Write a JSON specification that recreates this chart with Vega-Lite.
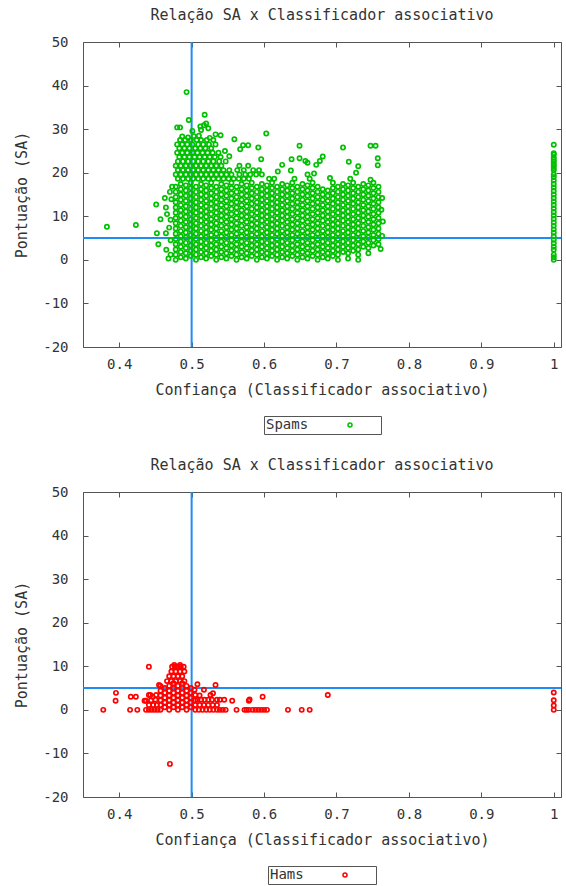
{
"$schema":"https://vega.github.io/schema/vega-lite/v6.json",
"padding":{"left":14,"top":8,"right":2,"bottom":0},
"spacing":23,
"config":{
"font":"DejaVu Sans Mono",
"view":{"stroke":null},
"axis":{"labelFont":"DejaVu Sans Mono","labelFontSize":14,"labelColor":"#333","titleFont":"DejaVu Sans Mono","titleFontSize":15,"titleFontWeight":"normal","titleColor":"#333","domainColor":"#555","tickColor":"#555","tickSize":-5,"grid":false},
"axisBottom":{"labelPadding":15,"titlePadding":11},
"axisLeft":{"labelPadding":20,"titlePadding":13},
"title":{"font":"DejaVu Sans Mono","fontSize":15,"fontWeight":"normal","color":"#333","anchor":"middle","frame":"group","offset":12},
"legend":{"layout":{"bottom":{"anchor":"middle"}},"titleFont":"DejaVu Sans Mono","titleFontSize":14,"titleFontWeight":"normal","titleColor":"#333","labelFont":"DejaVu Sans Mono","labelFontSize":14,"labelColor":"#333","strokeColor":"#555","padding":2,"offset":19,"symbolSize":16,"symbolStrokeWidth":1.5,"symbolType":"circle"}
},
"datasets":{
"spams":[
{"c":0.478,"s":0},{"c":0.478,"s":1.2},{"c":0.478,"s":2.4},{"c":0.478,"s":3.6},{"c":0.478,"s":4.8},{"c":0.478,"s":6},{"c":0.478,"s":7.2},{"c":0.478,"s":8.4},{"c":0.478,"s":9.6},{"c":0.478,"s":10.8},{"c":0.478,"s":12},{"c":0.478,"s":13.2},{"c":0.478,"s":14.4},{"c":0.478,"s":15.6},{"c":0.478,"s":16.8},
{"c":0.485,"s":0.6},{"c":0.485,"s":1.8},{"c":0.485,"s":3},{"c":0.485,"s":4.2},{"c":0.485,"s":5.4},{"c":0.485,"s":6.6},{"c":0.485,"s":7.8},{"c":0.485,"s":9},{"c":0.485,"s":10.2},{"c":0.485,"s":11.4},{"c":0.485,"s":12.6},{"c":0.485,"s":13.8},{"c":0.485,"s":15},{"c":0.485,"s":16.2},{"c":0.485,"s":17.4},
{"c":0.492,"s":0.3},{"c":0.492,"s":1.5},{"c":0.492,"s":2.7},{"c":0.492,"s":3.9},{"c":0.492,"s":5.1},{"c":0.492,"s":6.3},{"c":0.492,"s":7.5},{"c":0.492,"s":8.7},{"c":0.492,"s":9.9},{"c":0.492,"s":11.1},{"c":0.492,"s":12.3},{"c":0.492,"s":13.5},{"c":0.492,"s":14.7},{"c":0.492,"s":15.9},{"c":0.492,"s":17.1},
{"c":0.499,"s":0.9},{"c":0.499,"s":2.1},{"c":0.499,"s":3.3},{"c":0.499,"s":4.5},{"c":0.499,"s":5.7},{"c":0.499,"s":6.9},{"c":0.499,"s":8.1},{"c":0.499,"s":9.3},{"c":0.499,"s":10.5},{"c":0.499,"s":11.7},{"c":0.499,"s":12.9},{"c":0.499,"s":14.1},{"c":0.499,"s":15.3},{"c":0.499,"s":16.5},{"c":0.499,"s":17.7},
{"c":0.506,"s":0},{"c":0.506,"s":1.2},{"c":0.506,"s":2.4},{"c":0.506,"s":3.6},{"c":0.506,"s":4.8},{"c":0.506,"s":6},{"c":0.506,"s":7.2},{"c":0.506,"s":8.4},{"c":0.506,"s":9.6},{"c":0.506,"s":10.8},{"c":0.506,"s":12},{"c":0.506,"s":13.2},{"c":0.506,"s":14.4},{"c":0.506,"s":15.6},{"c":0.506,"s":16.8},
{"c":0.513,"s":0.6},{"c":0.513,"s":1.8},{"c":0.513,"s":3},{"c":0.513,"s":4.2},{"c":0.513,"s":5.4},{"c":0.513,"s":6.6},{"c":0.513,"s":7.8},{"c":0.513,"s":9},{"c":0.513,"s":10.2},{"c":0.513,"s":11.4},{"c":0.513,"s":12.6},{"c":0.513,"s":13.8},{"c":0.513,"s":15},{"c":0.513,"s":16.2},{"c":0.513,"s":17.4},
{"c":0.52,"s":0.3},{"c":0.52,"s":1.5},{"c":0.52,"s":2.7},{"c":0.52,"s":3.9},{"c":0.52,"s":5.1},{"c":0.52,"s":6.3},{"c":0.52,"s":7.5},{"c":0.52,"s":8.7},{"c":0.52,"s":9.9},{"c":0.52,"s":11.1},{"c":0.52,"s":12.3},{"c":0.52,"s":13.5},{"c":0.52,"s":14.7},{"c":0.52,"s":15.9},{"c":0.52,"s":17.1},
{"c":0.527,"s":0.9},{"c":0.527,"s":2.1},{"c":0.527,"s":3.3},{"c":0.527,"s":4.5},{"c":0.527,"s":5.7},{"c":0.527,"s":6.9},{"c":0.527,"s":8.1},{"c":0.527,"s":9.3},{"c":0.527,"s":10.5},{"c":0.527,"s":11.7},{"c":0.527,"s":12.9},{"c":0.527,"s":14.1},{"c":0.527,"s":15.3},{"c":0.527,"s":16.5},{"c":0.527,"s":17.7},
{"c":0.534,"s":0},{"c":0.534,"s":1.2},{"c":0.534,"s":2.4},{"c":0.534,"s":3.6},{"c":0.534,"s":4.8},{"c":0.534,"s":6},{"c":0.534,"s":7.2},{"c":0.534,"s":8.4},{"c":0.534,"s":9.6},{"c":0.534,"s":10.8},{"c":0.534,"s":12},{"c":0.534,"s":13.2},{"c":0.534,"s":14.4},{"c":0.534,"s":15.6},{"c":0.534,"s":16.8},
{"c":0.541,"s":0.6},{"c":0.541,"s":1.8},{"c":0.541,"s":3},{"c":0.541,"s":4.2},{"c":0.541,"s":5.4},{"c":0.541,"s":6.6},{"c":0.541,"s":7.8},{"c":0.541,"s":9},{"c":0.541,"s":10.2},{"c":0.541,"s":11.4},{"c":0.541,"s":12.6},{"c":0.541,"s":13.8},{"c":0.541,"s":15},{"c":0.541,"s":16.2},{"c":0.541,"s":17.4},
{"c":0.548,"s":0.3},{"c":0.548,"s":1.5},{"c":0.548,"s":2.7},{"c":0.548,"s":3.9},{"c":0.548,"s":5.1},{"c":0.548,"s":6.3},{"c":0.548,"s":7.5},{"c":0.548,"s":8.7},{"c":0.548,"s":9.9},{"c":0.548,"s":11.1},{"c":0.548,"s":12.3},{"c":0.548,"s":13.5},{"c":0.548,"s":14.7},{"c":0.548,"s":15.9},{"c":0.548,"s":17.1},
{"c":0.555,"s":0.9},{"c":0.555,"s":2.1},{"c":0.555,"s":3.3},{"c":0.555,"s":4.5},{"c":0.555,"s":5.7},{"c":0.555,"s":6.9},{"c":0.555,"s":8.1},{"c":0.555,"s":9.3},{"c":0.555,"s":10.5},{"c":0.555,"s":11.7},{"c":0.555,"s":12.9},{"c":0.555,"s":14.1},{"c":0.555,"s":15.3},{"c":0.555,"s":16.5},{"c":0.555,"s":17.7},
{"c":0.562,"s":0},{"c":0.562,"s":1.2},{"c":0.562,"s":2.4},{"c":0.562,"s":3.6},{"c":0.562,"s":4.8},{"c":0.562,"s":6},{"c":0.562,"s":7.2},{"c":0.562,"s":8.4},{"c":0.562,"s":9.6},{"c":0.562,"s":10.8},{"c":0.562,"s":12},{"c":0.562,"s":13.2},{"c":0.562,"s":14.4},{"c":0.562,"s":15.6},{"c":0.562,"s":16.8},
{"c":0.569,"s":0.6},{"c":0.569,"s":1.8},{"c":0.569,"s":3},{"c":0.569,"s":4.2},{"c":0.569,"s":5.4},{"c":0.569,"s":6.6},{"c":0.569,"s":7.8},{"c":0.569,"s":9},{"c":0.569,"s":10.2},{"c":0.569,"s":11.4},{"c":0.569,"s":12.6},{"c":0.569,"s":13.8},{"c":0.569,"s":15},{"c":0.569,"s":16.2},{"c":0.569,"s":17.4},
{"c":0.576,"s":0.3},{"c":0.576,"s":1.5},{"c":0.576,"s":2.7},{"c":0.576,"s":3.9},{"c":0.576,"s":5.1},{"c":0.576,"s":6.3},{"c":0.576,"s":7.5},{"c":0.576,"s":8.7},{"c":0.576,"s":9.9},{"c":0.576,"s":11.1},{"c":0.576,"s":12.3},{"c":0.576,"s":13.5},{"c":0.576,"s":14.7},{"c":0.576,"s":15.9},{"c":0.576,"s":17.1},
{"c":0.583,"s":0.9},{"c":0.583,"s":2.1},{"c":0.583,"s":3.3},{"c":0.583,"s":4.5},{"c":0.583,"s":5.7},{"c":0.583,"s":6.9},{"c":0.583,"s":8.1},{"c":0.583,"s":9.3},{"c":0.583,"s":10.5},{"c":0.583,"s":11.7},{"c":0.583,"s":12.9},{"c":0.583,"s":14.1},{"c":0.583,"s":15.3},{"c":0.583,"s":16.5},{"c":0.583,"s":17.7},
{"c":0.59,"s":0},{"c":0.59,"s":1.2},{"c":0.59,"s":2.4},{"c":0.59,"s":3.6},{"c":0.59,"s":4.8},{"c":0.59,"s":6},{"c":0.59,"s":7.2},{"c":0.59,"s":8.4},{"c":0.59,"s":9.6},{"c":0.59,"s":10.8},{"c":0.59,"s":12},{"c":0.59,"s":13.2},{"c":0.59,"s":14.4},{"c":0.59,"s":15.6},{"c":0.59,"s":16.8},
{"c":0.597,"s":0.6},{"c":0.597,"s":1.8},{"c":0.597,"s":3},{"c":0.597,"s":4.2},{"c":0.597,"s":5.4},{"c":0.597,"s":6.6},{"c":0.597,"s":7.8},{"c":0.597,"s":9},{"c":0.597,"s":10.2},{"c":0.597,"s":11.4},{"c":0.597,"s":12.6},{"c":0.597,"s":13.8},{"c":0.597,"s":15},{"c":0.597,"s":16.2},{"c":0.597,"s":17.4},
{"c":0.604,"s":0.3},{"c":0.604,"s":1.5},{"c":0.604,"s":2.7},{"c":0.604,"s":3.9},{"c":0.604,"s":5.1},{"c":0.604,"s":6.3},{"c":0.604,"s":7.5},{"c":0.604,"s":8.7},{"c":0.604,"s":9.9},{"c":0.604,"s":11.1},{"c":0.604,"s":12.3},{"c":0.604,"s":13.5},{"c":0.604,"s":14.7},{"c":0.604,"s":15.9},{"c":0.604,"s":17.1},
{"c":0.611,"s":0.9},{"c":0.611,"s":2.1},{"c":0.611,"s":3.3},{"c":0.611,"s":4.5},{"c":0.611,"s":5.7},{"c":0.611,"s":6.9},{"c":0.611,"s":8.1},{"c":0.611,"s":9.3},{"c":0.611,"s":10.5},{"c":0.611,"s":11.7},{"c":0.611,"s":12.9},{"c":0.611,"s":14.1},{"c":0.611,"s":15.3},{"c":0.611,"s":16.5},{"c":0.611,"s":17.7},
{"c":0.618,"s":0},{"c":0.618,"s":1.2},{"c":0.618,"s":2.4},{"c":0.618,"s":3.6},{"c":0.618,"s":4.8},{"c":0.618,"s":6},{"c":0.618,"s":7.2},{"c":0.618,"s":8.4},{"c":0.618,"s":9.6},{"c":0.618,"s":10.8},{"c":0.618,"s":12},{"c":0.618,"s":13.2},{"c":0.618,"s":14.4},{"c":0.618,"s":15.6},{"c":0.618,"s":16.8},
{"c":0.625,"s":0.6},{"c":0.625,"s":1.8},{"c":0.625,"s":3},{"c":0.625,"s":4.2},{"c":0.625,"s":5.4},{"c":0.625,"s":6.6},{"c":0.625,"s":7.8},{"c":0.625,"s":9},{"c":0.625,"s":10.2},{"c":0.625,"s":11.4},{"c":0.625,"s":12.6},{"c":0.625,"s":13.8},{"c":0.625,"s":15},{"c":0.625,"s":16.2},{"c":0.625,"s":17.4},
{"c":0.632,"s":0.3},{"c":0.632,"s":1.5},{"c":0.632,"s":2.7},{"c":0.632,"s":3.9},{"c":0.632,"s":5.1},{"c":0.632,"s":6.3},{"c":0.632,"s":7.5},{"c":0.632,"s":8.7},{"c":0.632,"s":9.9},{"c":0.632,"s":11.1},{"c":0.632,"s":12.3},{"c":0.632,"s":13.5},{"c":0.632,"s":14.7},{"c":0.632,"s":15.9},{"c":0.632,"s":17.1},
{"c":0.639,"s":0.9},{"c":0.639,"s":2.1},{"c":0.639,"s":3.3},{"c":0.639,"s":4.5},{"c":0.639,"s":5.7},{"c":0.639,"s":6.9},{"c":0.639,"s":8.1},{"c":0.639,"s":9.3},{"c":0.639,"s":10.5},{"c":0.639,"s":11.7},{"c":0.639,"s":12.9},{"c":0.639,"s":14.1},{"c":0.639,"s":15.3},{"c":0.639,"s":16.5},{"c":0.639,"s":17.7},
{"c":0.646,"s":0},{"c":0.646,"s":1.2},{"c":0.646,"s":2.4},{"c":0.646,"s":3.6},{"c":0.646,"s":4.8},{"c":0.646,"s":6},{"c":0.646,"s":7.2},{"c":0.646,"s":8.4},{"c":0.646,"s":9.6},{"c":0.646,"s":10.8},{"c":0.646,"s":12},{"c":0.646,"s":13.2},{"c":0.646,"s":14.4},{"c":0.646,"s":15.6},{"c":0.646,"s":16.8},
{"c":0.653,"s":0.6},{"c":0.653,"s":1.8},{"c":0.653,"s":3},{"c":0.653,"s":4.2},{"c":0.653,"s":5.4},{"c":0.653,"s":6.6},{"c":0.653,"s":7.8},{"c":0.653,"s":9},{"c":0.653,"s":10.2},{"c":0.653,"s":11.4},{"c":0.653,"s":12.6},{"c":0.653,"s":13.8},{"c":0.653,"s":15},{"c":0.653,"s":16.2},{"c":0.653,"s":17.4},
{"c":0.66,"s":0.3},{"c":0.66,"s":1.5},{"c":0.66,"s":2.7},{"c":0.66,"s":3.9},{"c":0.66,"s":5.1},{"c":0.66,"s":6.3},{"c":0.66,"s":7.5},{"c":0.66,"s":8.7},{"c":0.66,"s":9.9},{"c":0.66,"s":11.1},{"c":0.66,"s":12.3},{"c":0.66,"s":13.5},{"c":0.66,"s":14.7},{"c":0.66,"s":15.9},{"c":0.66,"s":17.1},
{"c":0.667,"s":0.9},{"c":0.667,"s":2.1},{"c":0.667,"s":3.3},{"c":0.667,"s":4.5},{"c":0.667,"s":5.7},{"c":0.667,"s":6.9},{"c":0.667,"s":8.1},{"c":0.667,"s":9.3},{"c":0.667,"s":10.5},{"c":0.667,"s":11.7},{"c":0.667,"s":12.9},{"c":0.667,"s":14.1},{"c":0.667,"s":15.3},{"c":0.667,"s":16.5},{"c":0.667,"s":17.7},
{"c":0.674,"s":0},{"c":0.674,"s":1.2},{"c":0.674,"s":2.4},{"c":0.674,"s":3.6},{"c":0.674,"s":4.8},{"c":0.674,"s":6},{"c":0.674,"s":7.2},{"c":0.674,"s":8.4},{"c":0.674,"s":9.6},{"c":0.674,"s":10.8},{"c":0.674,"s":12},{"c":0.674,"s":13.2},{"c":0.674,"s":14.4},{"c":0.674,"s":15.6},{"c":0.674,"s":16.8},
{"c":0.681,"s":0.6},{"c":0.681,"s":1.8},{"c":0.681,"s":3},{"c":0.681,"s":4.2},{"c":0.681,"s":5.4},{"c":0.681,"s":6.6},{"c":0.681,"s":7.8},{"c":0.681,"s":9},{"c":0.681,"s":10.2},{"c":0.681,"s":11.4},{"c":0.681,"s":12.6},{"c":0.681,"s":13.8},{"c":0.681,"s":15},{"c":0.681,"s":16.2},
{"c":0.688,"s":0.3},{"c":0.688,"s":1.5},{"c":0.688,"s":2.7},{"c":0.688,"s":3.9},{"c":0.688,"s":5.1},{"c":0.688,"s":6.3},{"c":0.688,"s":7.5},{"c":0.688,"s":8.7},{"c":0.688,"s":9.9},{"c":0.688,"s":11.1},{"c":0.688,"s":12.3},{"c":0.688,"s":13.5},{"c":0.688,"s":14.7},{"c":0.688,"s":15.9},
{"c":0.695,"s":0.9},{"c":0.695,"s":2.1},{"c":0.695,"s":3.3},{"c":0.695,"s":4.5},{"c":0.695,"s":5.7},{"c":0.695,"s":6.9},{"c":0.695,"s":8.1},{"c":0.695,"s":9.3},{"c":0.695,"s":10.5},{"c":0.695,"s":11.7},{"c":0.695,"s":12.9},{"c":0.695,"s":14.1},{"c":0.695,"s":15.3},{"c":0.695,"s":16.5},{"c":0.695,"s":17.7},
{"c":0.702,"s":0},{"c":0.702,"s":1.2},{"c":0.702,"s":2.4},{"c":0.702,"s":3.6},{"c":0.702,"s":4.8},{"c":0.702,"s":6},{"c":0.702,"s":7.2},{"c":0.702,"s":8.4},{"c":0.702,"s":9.6},{"c":0.702,"s":10.8},{"c":0.702,"s":12},{"c":0.702,"s":13.2},{"c":0.702,"s":14.4},{"c":0.702,"s":15.6},{"c":0.702,"s":16.8},
{"c":0.709,"s":1.8},{"c":0.709,"s":3},{"c":0.709,"s":4.2},{"c":0.709,"s":5.4},{"c":0.709,"s":6.6},{"c":0.709,"s":7.8},{"c":0.709,"s":9},{"c":0.709,"s":10.2},{"c":0.709,"s":11.4},{"c":0.709,"s":12.6},{"c":0.709,"s":13.8},{"c":0.709,"s":15},{"c":0.709,"s":16.2},{"c":0.709,"s":17.4},
{"c":0.716,"s":0.3},{"c":0.716,"s":1.5},{"c":0.716,"s":2.7},{"c":0.716,"s":3.9},{"c":0.716,"s":5.1},{"c":0.716,"s":6.3},{"c":0.716,"s":7.5},{"c":0.716,"s":8.7},{"c":0.716,"s":9.9},{"c":0.716,"s":11.1},{"c":0.716,"s":12.3},{"c":0.716,"s":13.5},{"c":0.716,"s":14.7},{"c":0.716,"s":15.9},{"c":0.716,"s":17.1},
{"c":0.723,"s":2.1},{"c":0.723,"s":3.3},{"c":0.723,"s":4.5},{"c":0.723,"s":5.7},{"c":0.723,"s":6.9},{"c":0.723,"s":8.1},{"c":0.723,"s":9.3},{"c":0.723,"s":10.5},{"c":0.723,"s":11.7},{"c":0.723,"s":12.9},{"c":0.723,"s":14.1},{"c":0.723,"s":15.3},{"c":0.723,"s":16.5},{"c":0.723,"s":17.7},
{"c":0.73,"s":0},{"c":0.73,"s":1.2},{"c":0.73,"s":2.4},{"c":0.73,"s":3.6},{"c":0.73,"s":4.8},{"c":0.73,"s":6},{"c":0.73,"s":7.2},{"c":0.73,"s":8.4},{"c":0.73,"s":9.6},{"c":0.73,"s":10.8},{"c":0.73,"s":12},{"c":0.73,"s":13.2},{"c":0.73,"s":14.4},{"c":0.73,"s":15.6},{"c":0.73,"s":16.8},
{"c":0.737,"s":3},{"c":0.737,"s":4.2},{"c":0.737,"s":5.4},{"c":0.737,"s":6.6},{"c":0.737,"s":7.8},{"c":0.737,"s":9},{"c":0.737,"s":10.2},{"c":0.737,"s":11.4},{"c":0.737,"s":12.6},{"c":0.737,"s":13.8},{"c":0.737,"s":15},{"c":0.737,"s":16.2},{"c":0.737,"s":17.4},
{"c":0.744,"s":1.5},{"c":0.744,"s":2.7},{"c":0.744,"s":3.9},{"c":0.744,"s":5.1},{"c":0.744,"s":6.3},{"c":0.744,"s":7.5},{"c":0.744,"s":8.7},{"c":0.744,"s":9.9},{"c":0.744,"s":11.1},{"c":0.744,"s":12.3},{"c":0.744,"s":13.5},{"c":0.744,"s":14.7},{"c":0.744,"s":15.9},{"c":0.744,"s":17.1},
{"c":0.751,"s":3.3},{"c":0.751,"s":4.5},{"c":0.751,"s":5.7},{"c":0.751,"s":6.9},{"c":0.751,"s":8.1},{"c":0.751,"s":9.3},{"c":0.751,"s":10.5},{"c":0.751,"s":11.7},{"c":0.751,"s":12.9},{"c":0.751,"s":14.1},{"c":0.751,"s":15.3},{"c":0.751,"s":16.5},{"c":0.751,"s":17.7},
{"c":0.758,"s":3.6},{"c":0.758,"s":4.8},{"c":0.758,"s":6},{"c":0.758,"s":7.2},{"c":0.758,"s":8.4},{"c":0.758,"s":9.6},{"c":0.758,"s":10.8},{"c":0.758,"s":12},{"c":0.758,"s":13.2},{"c":0.758,"s":14.4},{"c":0.758,"s":15.6},{"c":0.758,"s":16.8},
{"c":0.763,"s":5.5},{"c":0.764,"s":8.8},{"c":0.762,"s":11.5},{"c":0.763,"s":14.2},{"c":0.761,"s":2.5},
{"c":0.481,"s":18.6},{"c":0.488,"s":18.6},{"c":0.495,"s":18.6},{"c":0.502,"s":18.6},{"c":0.509,"s":18.6},{"c":0.516,"s":18.6},{"c":0.523,"s":18.6},{"c":0.53,"s":18.6},{"c":0.537,"s":18.6},{"c":0.544,"s":18.6},{"c":0.551,"s":18.6},{"c":0.558,"s":18.6},{"c":0.565,"s":18.6},{"c":0.572,"s":18.6},{"c":0.579,"s":18.6},{"c":0.607,"s":18.6},{"c":0.614,"s":18.6},{"c":0.642,"s":18.6},{"c":0.663,"s":18.6},{"c":0.691,"s":18.8},{"c":0.719,"s":18.6},{"c":0.747,"s":18.4},
{"c":0.478,"s":19.6},{"c":0.485,"s":19.6},{"c":0.492,"s":19.6},{"c":0.499,"s":19.6},{"c":0.506,"s":19.6},{"c":0.513,"s":19.6},{"c":0.52,"s":19.6},{"c":0.527,"s":19.6},{"c":0.534,"s":19.6},{"c":0.541,"s":19.6},{"c":0.548,"s":19.6},{"c":0.555,"s":19.6},{"c":0.566,"s":19.6},{"c":0.574,"s":19.6},{"c":0.581,"s":19.6},{"c":0.589,"s":19.6},{"c":0.597,"s":19.6},{"c":0.66,"s":19.6},{"c":0.669,"s":19.8},
{"c":0.481,"s":20.6},{"c":0.488,"s":20.6},{"c":0.495,"s":20.6},{"c":0.502,"s":20.6},{"c":0.509,"s":20.6},{"c":0.516,"s":20.6},{"c":0.523,"s":20.6},{"c":0.53,"s":20.6},{"c":0.537,"s":20.6},{"c":0.544,"s":20.6},{"c":0.552,"s":20.6},{"c":0.563,"s":20.6},{"c":0.572,"s":20.6},{"c":0.585,"s":20.6},{"c":0.593,"s":20.6},{"c":0.619,"s":20.3},{"c":0.637,"s":20.5},{"c":0.727,"s":20},
{"c":0.478,"s":21.6},{"c":0.485,"s":21.6},{"c":0.492,"s":21.6},{"c":0.499,"s":21.6},{"c":0.506,"s":21.6},{"c":0.513,"s":21.6},{"c":0.52,"s":21.6},{"c":0.527,"s":21.6},{"c":0.534,"s":21.6},{"c":0.541,"s":21.6},{"c":0.566,"s":21.6},{"c":0.578,"s":21.6},{"c":0.625,"s":21.8},{"c":0.672,"s":21.8},{"c":0.73,"s":21.5},{"c":0.757,"s":21.7},
{"c":0.481,"s":22.6},{"c":0.488,"s":22.6},{"c":0.495,"s":22.6},{"c":0.502,"s":22.6},{"c":0.509,"s":22.6},{"c":0.516,"s":22.6},{"c":0.523,"s":22.6},{"c":0.53,"s":22.6},{"c":0.538,"s":22.6},{"c":0.547,"s":22.6},{"c":0.657,"s":22.7},{"c":0.677,"s":22.7},{"c":0.717,"s":22.5},{"c":0.66,"s":22.3},
{"c":0.483,"s":23.6},{"c":0.49,"s":23.6},{"c":0.497,"s":23.6},{"c":0.504,"s":23.6},{"c":0.511,"s":23.6},{"c":0.518,"s":23.6},{"c":0.525,"s":23.6},{"c":0.532,"s":23.6},{"c":0.54,"s":23.6},{"c":0.552,"s":23.8},{"c":0.596,"s":23.1},{"c":0.638,"s":23.1},{"c":0.649,"s":23.3},{"c":0.681,"s":23.7},{"c":0.757,"s":23.3},
{"c":0.48,"s":24.6},{"c":0.487,"s":24.6},{"c":0.494,"s":24.6},{"c":0.501,"s":24.6},{"c":0.508,"s":24.6},{"c":0.515,"s":24.6},{"c":0.522,"s":24.6},{"c":0.529,"s":24.6},{"c":0.537,"s":24.6},{"c":0.546,"s":25},
{"c":0.483,"s":25.6},{"c":0.49,"s":25.6},{"c":0.497,"s":25.6},{"c":0.505,"s":25.6},{"c":0.512,"s":25.6},{"c":0.519,"s":25.6},{"c":0.527,"s":25.6},{"c":0.567,"s":25.4},{"c":0.592,"s":25.8},{"c":0.709,"s":25.8},
{"c":0.48,"s":26.5},{"c":0.487,"s":26.5},{"c":0.494,"s":26.5},{"c":0.501,"s":26.5},{"c":0.509,"s":26.5},{"c":0.516,"s":26.5},{"c":0.524,"s":26.5},{"c":0.533,"s":26.5},{"c":0.571,"s":26.3},{"c":0.578,"s":26.3},{"c":0.649,"s":26.2},{"c":0.747,"s":26.2},{"c":0.754,"s":26.2},
{"c":0.484,"s":27.5},{"c":0.491,"s":27.5},{"c":0.499,"s":27.5},{"c":0.507,"s":27.5},{"c":0.513,"s":27.5},{"c":0.521,"s":27.5},{"c":0.53,"s":27.5},{"c":0.559,"s":27.7},
{"c":0.487,"s":28.3},{"c":0.495,"s":28.1},{"c":0.503,"s":28.4},{"c":0.51,"s":28.5},{"c":0.525,"s":28},{"c":0.533,"s":28.8},{"c":0.54,"s":28.6},
{"c":0.501,"s":29.6},{"c":0.513,"s":29.8},{"c":0.603,"s":29},
{"c":0.48,"s":30.4},{"c":0.484,"s":30.4},{"c":0.512,"s":30.6},{"c":0.517,"s":30.9},{"c":0.523,"s":30.2},{"c":0.52,"s":31.3},
{"c":0.496,"s":32.1},{"c":0.518,"s":33.3},{"c":0.493,"s":38.5},
{"c":0.383,"s":7.6},{"c":0.423,"s":8},{"c":0.451,"s":12.7},{"c":0.457,"s":9.3},{"c":0.452,"s":6.1},{"c":0.454,"s":3.6},{"c":0.465,"s":2.3},{"c":0.471,"s":4.5},{"c":0.4645,"s":12},{"c":0.466,"s":10.5},{"c":0.47,"s":15.6},{"c":0.473,"s":16.8},{"c":0.469,"s":7.4},{"c":0.4645,"s":6.1},{"c":0.471,"s":1.2},{"c":0.468,"s":0.3},{"c":0.472,"s":13.9},{"c":0.471,"s":9.2},{"c":0.463,"s":14.2},
{"c":1,"s":0},{"c":1,"s":0.6},{"c":1,"s":1.2},{"c":1,"s":2.3},{"c":1,"s":3},{"c":1,"s":3.8},{"c":1,"s":4.6},{"c":1,"s":5.4},{"c":1,"s":6.2},{"c":1,"s":7},{"c":1,"s":7.8},{"c":1,"s":8.6},{"c":1,"s":9.4},{"c":1,"s":10.2},{"c":1,"s":11},{"c":1,"s":11.8},{"c":1,"s":12.6},{"c":1,"s":13.4},{"c":1,"s":14.2},{"c":1,"s":15},{"c":1,"s":15.8},{"c":1,"s":16.6},{"c":1,"s":17.4},{"c":1,"s":18.2},{"c":1,"s":19},{"c":1,"s":19.6},{"c":1,"s":20.6},{"c":1,"s":21.1},{"c":1,"s":21.6},{"c":1,"s":22},{"c":1,"s":22.5},{"c":1,"s":23},{"c":1,"s":23.5},{"c":1,"s":24.2},{"c":1,"s":24.5},{"c":1,"s":26.4}
],
"hams":[
{"c":0.457,"s":0},{"c":0.457,"s":1.1},{"c":0.457,"s":2.2},{"c":0.457,"s":3.3},{"c":0.457,"s":4.4},{"c":0.457,"s":5.5},
{"c":0.463,"s":0.6},{"c":0.463,"s":1.7},{"c":0.463,"s":2.8},{"c":0.463,"s":3.9},{"c":0.463,"s":5},
{"c":0.469,"s":0},{"c":0.469,"s":1.1},{"c":0.469,"s":2.2},{"c":0.469,"s":3.3},{"c":0.469,"s":4.4},{"c":0.469,"s":5.5},
{"c":0.475,"s":0.6},{"c":0.475,"s":1.7},{"c":0.475,"s":2.8},{"c":0.475,"s":3.9},{"c":0.475,"s":5},{"c":0.475,"s":6.1},
{"c":0.481,"s":0},{"c":0.481,"s":1.1},{"c":0.481,"s":2.2},{"c":0.481,"s":3.3},{"c":0.481,"s":4.4},{"c":0.481,"s":5.5},
{"c":0.487,"s":0.6},{"c":0.487,"s":1.7},{"c":0.487,"s":2.8},{"c":0.487,"s":3.9},{"c":0.487,"s":5},{"c":0.487,"s":6.1},
{"c":0.493,"s":0},{"c":0.493,"s":1.1},{"c":0.493,"s":2.2},{"c":0.493,"s":3.3},{"c":0.493,"s":4.4},{"c":0.493,"s":5.5},
{"c":0.499,"s":0.6},{"c":0.499,"s":1.7},{"c":0.499,"s":2.8},{"c":0.499,"s":3.9},{"c":0.499,"s":5},
{"c":0.505,"s":0},{"c":0.505,"s":1.1},{"c":0.505,"s":2.2},
{"c":0.466,"s":6.6},{"c":0.472,"s":6.6},{"c":0.478,"s":6.6},{"c":0.484,"s":6.6},{"c":0.49,"s":6.6},
{"c":0.469,"s":7.7},{"c":0.475,"s":7.7},{"c":0.481,"s":7.7},{"c":0.487,"s":7.7},
{"c":0.472,"s":8.8},{"c":0.478,"s":8.8},{"c":0.484,"s":8.8},{"c":0.49,"s":8.8},
{"c":0.473,"s":9.9},{"c":0.477,"s":9.9},{"c":0.481,"s":9.9},{"c":0.485,"s":9.9},{"c":0.489,"s":9.9},{"c":0.476,"s":10.3},{"c":0.484,"s":10.3},
{"c":0.441,"s":9.9},{"c":0.47,"s":-12.4},
{"c":0.378,"s":0},{"c":0.415,"s":0},{"c":0.425,"s":0},{"c":0.437,"s":0},{"c":0.441,"s":0},{"c":0.445,"s":0},{"c":0.449,"s":0},{"c":0.453,"s":0},{"c":0.51,"s":0},{"c":0.515,"s":0},{"c":0.52,"s":0},{"c":0.525,"s":0},{"c":0.53,"s":0},{"c":0.535,"s":0},{"c":0.539,"s":0},{"c":0.543,"s":0},{"c":0.547,"s":0},{"c":0.562,"s":0},{"c":0.573,"s":0},{"c":0.576,"s":0},{"c":0.579,"s":0},{"c":0.584,"s":0},{"c":0.588,"s":0},{"c":0.592,"s":0},{"c":0.596,"s":0},{"c":0.6,"s":0},{"c":0.604,"s":0},{"c":0.633,"s":0},{"c":0.652,"s":0},{"c":0.663,"s":0},
{"c":0.441,"s":1.1},{"c":0.447,"s":1.1},{"c":0.452,"s":1.1},{"c":0.511,"s":1.1},{"c":0.517,"s":1.1},{"c":0.523,"s":1.1},{"c":0.529,"s":1.1},{"c":0.535,"s":1.1},
{"c":0.395,"s":2.1},{"c":0.435,"s":2.1},{"c":0.437,"s":2.1},{"c":0.444,"s":2.2},{"c":0.45,"s":2.3},{"c":0.508,"s":2.3},{"c":0.513,"s":2.3},{"c":0.518,"s":2.3},{"c":0.523,"s":2.3},{"c":0.528,"s":2.3},{"c":0.535,"s":2.3},{"c":0.539,"s":2.3},{"c":0.545,"s":2.3},{"c":0.556,"s":2.1},{"c":0.579,"s":2.1},{"c":0.58,"s":2.4},
{"c":0.416,"s":3},{"c":0.423,"s":3},{"c":0.441,"s":3.4},{"c":0.443,"s":3.4},{"c":0.446,"s":3},{"c":0.451,"s":3.4},{"c":0.505,"s":3.4},{"c":0.511,"s":3.3},{"c":0.526,"s":3.4},{"c":0.5295,"s":3.8},{"c":0.598,"s":3},{"c":0.688,"s":3.4},
{"c":0.3955,"s":3.9},{"c":0.455,"s":5.7},{"c":0.508,"s":5.9},{"c":0.533,"s":5.7},{"c":0.517,"s":4.6},{"c":0.504,"s":4.6},
{"c":1,"s":0},{"c":1,"s":1},{"c":1,"s":2.2},{"c":1,"s":4}
]
},
"vconcat":[
{
"width":478,"height":305,
"title":{"text":"Relação SA x Classificador associativo"},
"layer":[
{"data":{"values":[{"v":0.5}]},"mark":{"type":"rule","color":"#1e8cf5","strokeWidth":2},
"encoding":{"x":{"field":"v","type":"quantitative","scale":{"domain":[0.35,1.01],"nice":false,"zero":false},"axis":{"orient":"top","values":[0.4,0.5,0.6,0.7,0.8,0.9,1],"labels":false,"title":null}}}},
{"data":{"values":[{"v":5}]},"mark":{"type":"rule","color":"#1e8cf5","strokeWidth":2},
"encoding":{"y":{"field":"v","type":"quantitative","scale":{"domain":[-20,50],"nice":false,"zero":false},"axis":{"orient":"right","values":[-20,-10,0,10,20,30,40,50],"labels":false,"title":null}}}},
{"data":{"name":"spams"},"mark":{"type":"point","shape":"circle","filled":false,"size":18,"strokeWidth":1.7,"opacity":1},
"encoding":{
"x":{"field":"c","type":"quantitative","scale":{"domain":[0.35,1.01],"nice":false,"zero":false},"axis":{"orient":"bottom","values":[0.4,0.5,0.6,0.7,0.8,0.9,1],"labelExpr":"''+datum.value","title":"Confiança (Classificador associativo)"}},
"y":{"field":"s","type":"quantitative","scale":{"domain":[-20,50],"nice":false,"zero":false},"axis":{"orient":"left","values":[-20,-10,0,10,20,30,40,50],"labelExpr":"''+datum.value","title":"Pontuação (SA)"}},
"color":{"datum":"Spams","type":"nominal","scale":{"domain":["Spams"],"range":["#00c000"]},"legend":{"orient":"bottom","title":"Spams","titleOrient":"left","titlePadding":34,"labelExpr":"' '","labelOffset":22}}
}}
],
"resolve":{"axis":{"x":"independent","y":"independent"}}
},
{
"width":478,"height":305,
"title":{"text":"Relação SA x Classificador associativo"},
"layer":[
{"data":{"values":[{"v":0.5}]},"mark":{"type":"rule","color":"#1e8cf5","strokeWidth":2},
"encoding":{"x":{"field":"v","type":"quantitative","scale":{"domain":[0.35,1.01],"nice":false,"zero":false},"axis":{"orient":"top","values":[0.4,0.5,0.6,0.7,0.8,0.9,1],"labels":false,"title":null}}}},
{"data":{"values":[{"v":5}]},"mark":{"type":"rule","color":"#1e8cf5","strokeWidth":2},
"encoding":{"y":{"field":"v","type":"quantitative","scale":{"domain":[-20,50],"nice":false,"zero":false},"axis":{"orient":"right","values":[-20,-10,0,10,20,30,40,50],"labels":false,"title":null}}}},
{"data":{"name":"hams"},"mark":{"type":"point","shape":"circle","filled":false,"size":18,"strokeWidth":1.7,"opacity":1},
"encoding":{
"x":{"field":"c","type":"quantitative","scale":{"domain":[0.35,1.01],"nice":false,"zero":false},"axis":{"orient":"bottom","values":[0.4,0.5,0.6,0.7,0.8,0.9,1],"labelExpr":"''+datum.value","title":"Confiança (Classificador associativo)"}},
"y":{"field":"s","type":"quantitative","scale":{"domain":[-20,50],"nice":false,"zero":false},"axis":{"orient":"left","values":[-20,-10,0,10,20,30,40,50],"labelExpr":"''+datum.value","title":"Pontuação (SA)"}},
"color":{"datum":"Hams","type":"nominal","scale":{"domain":["Hams"],"range":["#ff0000"]},"legend":{"orient":"bottom","title":"Hams","titleOrient":"left","titlePadding":34,"labelExpr":"' '","labelOffset":22}}
}}
],
"resolve":{"axis":{"x":"independent","y":"independent"}}
}
],
"resolve":{"scale":{"color":"independent"},"legend":{"color":"independent"}}
}
